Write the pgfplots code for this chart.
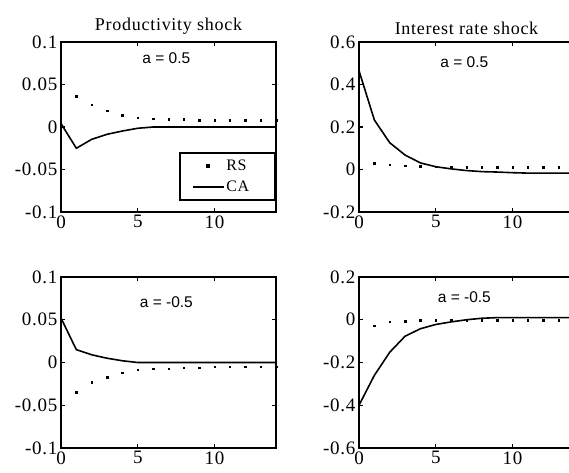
\documentclass[border=0pt]{standalone}
\usepackage{fontspec}
\setmainfont{Liberation Serif}[LetterSpace=4]
\newfontfamily\annfont{Liberation Sans}
\usepackage{pgfplots}
\pgfplotsset{compat=1.18}

\pgfplotsset{
  irf/.style={
    scale only axis, width=215pt, height=170pt,
    xmin=0, xmax=14, xtick={0,5,10},
    tick align=inside, major tick length=4pt,
    axis line style={line width=1.6pt},
    every tick/.style={black, line width=1.3pt},
    tick label style={font=\fontsize{19}{21}\selectfont},
    /pgf/number format/assume math mode=true,
    title style={font=\fontsize{18}{20}\selectfont, yshift=-2pt},
  },
  ca/.style={black, line width=1.6pt, mark=none,
    legend image code/.code={\draw[##1] (0pt,0pt) -- (31pt,0pt);}},
  rs/.style={black, only marks, mark=square*, mark size=0.75pt,
    legend image code/.code={\draw[##1] plot coordinates {(15.5pt,0pt)};}},
}
\newcommand{\ann}[2]{\node[font=\annfont\fontsize{15.5}{17}\selectfont] at (rel axis cs:0.49,#1) {#2};}

\begin{document}
\begin{tikzpicture}
\useasboundingbox (0pt,0pt) rectangle (569pt,472pt);
\clip (0pt,0pt) rectangle (569pt,472pt);

% productivity shock, a = 0.5
\begin{axis}[irf, at={(61pt,260pt)}, anchor=south west,
  title={Productivity shock},
  ymin=-0.1, ymax=0.1, ytick={-0.1,-0.05,0,0.05,0.1},
  yticklabels={-0.1,-0.05,0,0.05,0.1},
  legend style={at={(1,0.065)}, anchor=south east, draw=black, line width=1.6pt,
    font=\fontsize{16}{18}\selectfont, legend cell align=left,
    row sep=5pt, inner xsep=12pt, inner ysep=5pt,
    /tikz/every even column/.append style={column sep=5pt}},
]
\addplot[rs] coordinates {
  (1,0.036) (2,0.026) (3,0.019) (4,0.014) (5,0.011) (6,0.0098) (7,0.0094)
  (8,0.0092) (9,0.008) (10,0.008) (11,0.008) (12,0.008) (13,0.008) (14,0.008)
};
\addplot[ca] coordinates {
  (0,0.004) (1,-0.025) (2,-0.0145) (3,-0.0086) (4,-0.0047) (5,-0.0015)
  (6,0) (7,0) (8,0) (9,0) (10,0) (11,0) (12,0) (13,0) (14,0)
};
\legend{RS\hspace*{12pt}, CA\hspace*{12pt}}
\ann{0.905}{a = 0.5}
\end{axis}

% interest rate shock, a = 0.5
\begin{axis}[irf, at={(359pt,260pt)}, anchor=south west,
  title={Interest rate shock},
  ymin=-0.2, ymax=0.6, ytick={-0.2,0,0.2,0.4,0.6},
  yticklabels={-0.2,0,0.2,0.4,0.6},
]
\addplot[rs] coordinates {
  (1,0.03) (2,0.022) (3,0.018) (4,0.015) (5,0.013) (6,0.013) (7,0.012)
  (8,0.012) (9,0.012) (10,0.012) (11,0.012) (12,0.012) (13,0.012) (14,0.012)
};
\addplot[ca] coordinates {
  (0,0.465) (1,0.233) (2,0.126) (3,0.068) (4,0.031) (5,0.013) (6,0.003)
  (7,-0.005) (8,-0.01) (9,-0.012) (10,-0.015) (11,-0.017) (12,-0.017) (13,-0.017) (14,-0.017)
};
\ann{0.88}{a = 0.5}
\end{axis}

% productivity shock, a = -0.5
\begin{axis}[irf, at={(61pt,24pt)}, anchor=south west, height=171pt,
  ymin=-0.1, ymax=0.1, ytick={-0.1,-0.05,0,0.05,0.1},
  yticklabels={-0.1,-0.05,0,0.05,0.1},
]
\addplot[rs] coordinates {
  (1,-0.035) (2,-0.023) (3,-0.017) (4,-0.012) (5,-0.0086) (6,-0.007) (7,-0.007)
  (8,-0.006) (9,-0.006) (10,-0.005) (11,-0.005) (12,-0.005) (13,-0.005) (14,-0.005)
};
\addplot[ca] coordinates {
  (0,0.052) (1,0.015) (2,0.009) (3,0.005) (4,0.002) (5,0)
  (6,0) (7,0) (8,0) (9,0) (10,0) (11,0) (12,0) (13,0) (14,0)
};
\ann{0.854}{a = -0.5}
\end{axis}

% interest rate shock, a = -0.5
\begin{axis}[irf, at={(359pt,24pt)}, anchor=south west, height=171pt,
  ymin=-0.6, ymax=0.2, ytick={-0.6,-0.4,-0.2,0,0.2},
  yticklabels={-0.6,-0.4,-0.2,0,0.2},
]
\addplot[rs] coordinates {
  (1,-0.027) (2,-0.01) (3,-0.006) (4,-0.003) (5,-0.003) (6,-0.002) (7,-0.001)
  (8,-0.001) (9,-0.001) (10,-0.001) (11,-0.001) (12,-0.001) (13,-0.001) (14,-0.001)
};
\addplot[ca] coordinates {
  (0,-0.40) (1,-0.26) (2,-0.152) (3,-0.077) (4,-0.042) (5,-0.022) (6,-0.01)
  (7,0) (8,0.007) (9,0.01) (10,0.01) (11,0.01) (12,0.01) (13,0.01) (14,0.01)
};
\ann{0.883}{a = -0.5}
\end{axis}
\end{tikzpicture}
\end{document}
